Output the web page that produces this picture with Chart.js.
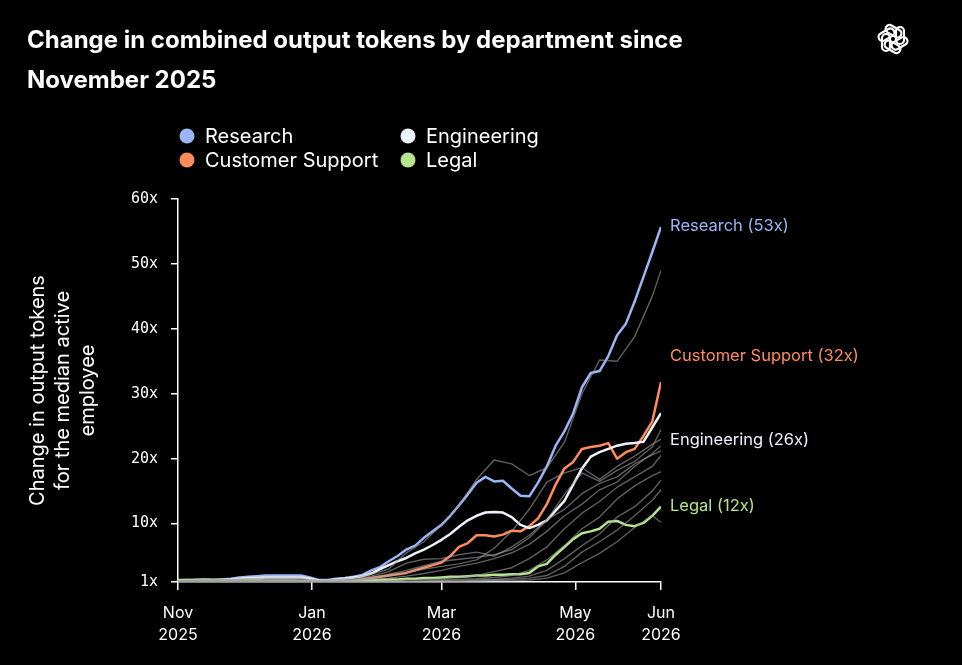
<!DOCTYPE html>
<html>
<head>
<meta charset="utf-8">
<script src="https://cdn.jsdelivr.net/npm/chart.js@4.4.1/dist/chart.umd.min.js"></script>
<style>
  html, body { margin: 0; padding: 0; background: #000; }
  canvas { display: block; }
</style>
</head>
<body>
<canvas id="tokenChart" width="962" height="665"></canvas>
<script>
// days since Nov 1 2025
const tickDays = [0, 61, 120, 181, 220];
const tickLabels = [['Nov', '2025'], ['Jan', '2026'], ['Mar', '2026'], ['May', '2026'], ['Jun', '2026']];
const yTicks = [1, 10, 20, 30, 40, 50, 60];

const daysFine = [0,4,8,12,16,20,24,28,32,36,40,44,48,52,56,60,64,68,72,76,80,84,88,92,96,100,
  104,108,112,116,120,124,128,132,136,140,144,148,152,156,160,164,168,172,176,180,184,188,192,196,
  200,204,208,212,216,220];

const research = [1.2,1.3,1.3,1.4,1.3,1.4,1.5,1.7,1.8,1.9,2.0,2.0,2.0,2.0,2.0,1.7,1.3,1.3,1.5,1.6,
  1.8,2.1,2.8,3.3,4.2,5.0,6.0,6.6,7.8,8.8,9.8,11.2,12.8,14.5,16.3,17.2,16.5,16.6,15.4,14.3,
  14.2,16.3,18.8,22.0,24.2,27.0,31.0,33.2,33.5,35.8,39.0,40.8,44.2,48.0,51.8,55.7];
const engineering = [1.2,1.2,1.3,1.3,1.3,1.3,1.4,1.5,1.6,1.6,1.7,1.7,1.7,1.7,1.7,1.5,1.2,1.2,1.4,1.5,
  1.7,1.9,2.3,3.0,3.6,4.2,4.7,5.4,6.0,6.7,7.5,8.4,9.5,10.5,11.2,11.7,11.8,11.7,11.0,9.8,
  9.3,9.8,10.5,12.0,13.5,16.0,18.5,20.3,21.0,21.5,22.0,22.3,22.4,22.6,24.8,27.0];
const customerSupport = [1.1,1.1,1.0,1.0,1.0,1.0,0.9,0.9,0.9,0.9,0.9,0.9,0.9,0.9,0.9,0.8,0.8,0.9,1.0,1.1,
  1.2,1.4,1.6,1.8,2.0,2.2,2.4,2.8,3.2,3.6,4.0,5.0,6.4,7.0,8.2,8.2,8.0,8.3,8.9,8.8,
  9.6,10.8,13.0,16.0,18.5,19.5,21.5,21.8,22.0,22.4,20.0,21.0,21.5,23.5,25.7,31.8];
const legal = [1.3,1.3,1.3,1.3,1.3,1.3,1.2,1.3,1.3,1.3,1.2,1.2,1.2,1.2,1.1,1.1,0.9,0.9,1.0,1.1,
  1.1,1.2,1.3,1.3,1.4,1.4,1.5,1.5,1.6,1.6,1.7,1.8,1.8,1.9,2.0,2.0,2.1,2.1,2.2,2.2,
  2.4,3.4,3.8,5.2,6.4,7.6,8.5,8.8,9.2,10.3,10.4,9.8,9.6,10.1,11.2,12.6];

const daysCoarse = [0,8,16,24,32,40,48,56,64,72,80,88,96,104,112,120,128,136,144,152,160,168,176,184,192,200,208,216,220];

const otherDepts = [
  [1.2,1.3,1.3,1.4,1.5,1.6,1.6,1.6,1.2,1.4,1.6,2.2,3.0,5.5,7.2,9.8,12.8,16.8,19.8,19.2,17.4,18.6,22.5,30.0,35.2,35.0,38.8,45.0,49.0],
  [1.1,1.1,1.2,1.2,1.2,1.3,1.3,1.3,1.1,1.2,1.4,1.7,2.2,2.8,3.5,4.2,4.5,4.8,5.2,6.0,7.8,10.5,14.5,17.8,16.5,18.2,19.6,21.8,24.5],
  [1.0,1.1,1.1,1.1,1.2,1.2,1.2,1.2,1.0,1.1,1.2,1.4,1.6,1.9,2.3,2.8,3.4,3.9,4.6,5.5,6.8,8.8,11.2,13.0,15.2,16.4,18.8,20.8,22.0],
  [1.1,1.1,1.0,1.1,1.1,1.1,1.1,1.0,0.9,1.0,1.0,1.1,1.2,1.3,1.4,1.5,1.7,2.0,2.6,3.2,4.6,6.4,9.2,11.6,13.4,15.6,17.2,18.8,20.5],
  [1.0,1.0,1.0,1.0,1.0,1.1,1.1,1.0,0.9,0.9,1.0,1.0,1.1,1.1,1.2,1.3,1.4,1.5,1.7,2.0,2.8,4.4,6.6,9.2,11.0,13.8,15.8,17.4,18.0],
  [1.1,1.1,1.1,1.0,1.0,1.0,1.0,1.0,0.9,0.9,0.9,1.0,1.0,1.1,1.1,1.2,1.2,1.3,1.4,1.6,1.9,2.8,4.6,6.6,8.4,11.0,12.6,15.0,16.7],
  [1.0,1.0,1.0,1.0,1.0,1.0,1.0,0.9,0.9,0.9,0.9,0.9,1.0,1.0,1.0,1.1,1.1,1.2,1.3,1.4,1.6,2.0,3.4,5.6,7.2,9.0,11.2,13.6,15.2],
  [1.0,1.0,1.0,1.0,0.9,0.9,0.9,0.9,0.8,0.8,0.9,0.9,0.9,1.0,1.0,1.0,1.1,1.1,1.2,1.2,1.3,1.6,2.4,4.0,5.4,7.2,9.4,11.2,10.2],
  [1.2,1.2,1.3,1.3,1.4,1.4,1.4,1.4,1.2,1.3,1.4,1.9,2.6,3.9,4.5,4.6,5.2,5.6,5.0,6.4,8.2,10.6,12.2,14.6,16.2,17.2,19.2,20.6,21.2],
  [1.1,1.1,1.1,1.2,1.2,1.2,1.3,1.2,1.0,1.1,1.3,1.5,1.9,2.5,3.0,3.4,3.8,4.4,6.2,8.8,12.2,16.4,17.8,18.6,16.8,18.8,20.4,22.2,23.0]
];

const series = [
  { name: 'Research', data: research, color: '#9bb5f6', end: 'Research (53x)', labelY: 226 },
  { name: 'Customer Support', data: customerSupport, color: '#ff8b5e', end: 'Customer Support (32x)', labelY: 356 },
  { name: 'Engineering', data: engineering, color: '#eef2fb', end: 'Engineering (26x)', labelY: 440 },
  { name: 'Legal', data: legal, color: '#b6e58e', end: 'Legal (12x)', labelY: 506 }
];

const toPoints = (days, vals) => days.map((d, i) => ({ x: d, y: vals[i] }));

const datasets = [];
otherDepts.forEach(vals => {
  datasets.push({
    data: toPoints(daysCoarse, vals),
    borderColor: 'rgba(160,160,160,0.6)',
    borderWidth: 1.4
  });
});
// highlighted departments drawn on top (reverse so Research is last)
[...series].reverse().forEach(s => {
  datasets.push({
    label: s.name,
    data: toPoints(daysFine, s.data),
    borderColor: s.color,
    borderWidth: 2.5
  });
});

const decor = {
  id: 'decor',
  beforeDraw(chart) {
    const c = chart.ctx;
    c.save();
    c.fillStyle = '#000';
    c.fillRect(0, 0, chart.width, chart.height);
    c.restore();
  },
  afterDraw(chart) {
    const c = chart.ctx;
    c.save();
    // title
    c.fillStyle = '#fff';
    c.textBaseline = 'middle';
    c.textAlign = 'left';
    c.font = 'bold 24px Inter';
    c.fillText('Change in combined output tokens by department since', 27, 41);
    c.fillText('November 2025', 27, 81);

    // legend
    const legendPos = [[187, 136], [187, 160], [408, 136], [408, 160]];
    series.forEach((s, i) => {
      const [lx, ly] = legendPos[i];
      c.fillStyle = s.color;
      c.beginPath();
      c.arc(lx, ly, 7.5, 0, Math.PI * 2);
      c.fill();
      c.fillStyle = '#fff';
      c.font = '20px Inter';
      c.fillText(s.name, lx + 18, ly + 1);
    });

    // end labels
    c.font = '16.5px Inter';
    series.forEach(s => {
      c.fillStyle = s.color;
      c.fillText(s.end, 670, s.labelY);
    });

    // y-axis title
    c.save();
    c.translate(63, (chart.chartArea.top + chart.chartArea.bottom) / 2);
    c.rotate(-Math.PI / 2);
    c.textAlign = 'center';
    c.fillStyle = '#fff';
    c.font = '20px Inter';
    c.fillText('Change in output tokens', 0, -25);
    c.fillText('for the median active', 0, 0);
    c.fillText('employee', 0, 25);
    c.restore();

    // logo
    c.save();
    c.translate(893, 39);
    c.strokeStyle = '#fff';
    c.lineWidth = 2.2;
    for (let k = 0; k < 6; k++) {
      c.save();
      c.rotate(k * Math.PI / 3);
      c.beginPath();
      c.roundRect(3, -12, 8, 17, 4);
      c.stroke();
      c.restore();
    }
    c.restore();
    c.restore();
  }
};

const ctx = document.getElementById('tokenChart').getContext('2d');
const tokenChart = new Chart(ctx, {
  type: 'line',
  data: { datasets: datasets },
  options: {
    responsive: false,
    animation: false,
    layout: { padding: { top: 199, right: 301, left: 0, bottom: 0 } },
    elements: { point: { radius: 0 }, line: { tension: 0, borderJoinStyle: 'round' } },
    plugins: { legend: { display: false }, tooltip: { enabled: false } },
    scales: {
      x: {
        type: 'linear',
        min: 0,
        max: 220,
        afterBuildTicks: s => { s.ticks = tickDays.map(v => ({ value: v })); },
        afterFit: s => { s.height = 83; },
        ticks: {
          color: '#fff',
          font: { family: 'Inter', size: 16, lineHeight: 1.4 },
          padding: 12,
          maxRotation: 0,
          autoSkip: false,
          callback: (v, i) => tickLabels[i]
        },
        grid: { drawOnChartArea: false, color: '#fff', lineWidth: 1.5, tickLength: 8 },
        border: { color: '#fff', width: 1.5 }
      },
      y: {
        min: 1,
        max: 60,
        afterBuildTicks: s => { s.ticks = yTicks.map(v => ({ value: v })); },
        afterFit: s => { s.width = 178; },
        ticks: {
          color: '#fff',
          font: { family: 'DejaVu Sans Mono', size: 15 },
          padding: 13,
          autoSkip: false,
          callback: v => v + 'x'
        },
        grid: { drawOnChartArea: false, color: '#fff', lineWidth: 1.5, tickLength: 7 },
        border: { color: '#fff', width: 1.5 }
      }
    }
  },
  plugins: [decor]
});
</script>
</body>
</html>
